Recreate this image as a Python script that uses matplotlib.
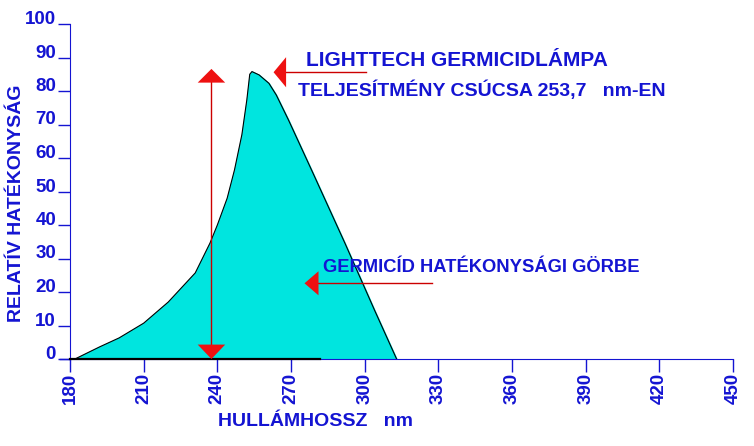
import numpy as np
import matplotlib.pyplot as plt

plt.rcParams['font.family'] = ['Liberation Sans', 'DejaVu Sans']

# germicid hatekonysagi gorbe (leolvasva)
wavelength = [182, 192, 200, 210, 220, 231, 237, 240, 244, 247, 250, 252, 253.2, 254.1,
              257, 261, 264, 269, 279, 292, 304, 313]
efficiency = [0, 3.6, 6.3, 10.7, 17, 25.7, 34.6, 40, 48, 56.5, 67, 77.3, 85, 85.8,
              84.8, 82.3, 78.8, 71.3, 55.4, 34.5, 14.6, 0]

x_ticks = [180, 210, 240, 270, 300, 330, 360, 390, 420, 450]
y_ticks = [0, 10, 20, 30, 40, 50, 60, 70, 80, 90, 100]

blue = '#1414d2'
red = '#ee1111'

fig = plt.figure(figsize=(7.54, 4.46), dpi=100)
ax = fig.add_axes([70 / 754, 1 - 359 / 446, (733 - 70) / 754, (359 - 24) / 446])
ax.set_xlim(180, 450)
ax.set_ylim(0, 100)

# kitoltott gorbe
ax.fill_between(wavelength, efficiency, color='#00e5df', zorder=2)
ax.plot(wavelength, efficiency, color='black', lw=0.8, zorder=3)
ax.plot([180, 282], [0, 0], color='black', lw=1.6, zorder=4, clip_on=False)

# tengelyek
for s in ['right', 'top']:
    ax.spines[s].set_visible(False)
ax.spines['left'].set_color(blue)
ax.spines['bottom'].set_color(blue)
ax.plot([176, 180], [0, 0], color=blue, lw=1, clip_on=False)

ax.set_xticks(x_ticks)
ax.set_yticks(y_ticks)
ax.tick_params(axis='both', colors=blue, length=9, width=1, pad=1)
ax.set_xticklabels([str(v) for v in x_ticks], rotation=90, fontsize=13.5,
                   fontweight='bold', color=blue)
ax.set_yticklabels([str(v) for v in y_ticks], fontsize=13.5,
                   fontweight='bold', color=blue)
for lab in ax.get_yticklabels():
    lab.set_verticalalignment('baseline')

fig.text(17 / 754, 1 - 203 / 446, 'RELATÍV HATÉKONYSÁG', fontsize=14, fontweight='bold',
         color=blue, ha='center', va='center', rotation=90)
fig.text(315 / 754, 1 - 421 / 446, 'HULLÁMHOSSZ   nm', fontsize=14, fontweight='bold',
         color=blue, ha='center', va='center')

# piros nyil 240 nm-nel
ax.plot([237.6, 237.6], [4, 83], color='#cc0000', lw=1, zorder=5)
ax.fill([232, 243.2, 237.6], [82.5, 82.5, 86.6], color=red, zorder=6, lw=0)
ax.fill([232, 243.2, 237.6], [4.3, 4.3, 0], color=red, zorder=6, lw=0)

# felso cimke nyila
ax.plot([268, 300.7], [85.6, 85.6], color='#cc0000', lw=1, zorder=5)
ax.fill([268, 268, 262.9], [81.1, 90.1, 85.6], color=red, zorder=6, lw=0)

# also cimke nyila
ax.plot([281, 327.6], [22.6, 22.6], color='#cc0000', lw=1, zorder=5)
ax.fill([281.2, 281.2, 275.5], [19, 26.2, 22.6], color=red, zorder=6, lw=0)

ax.text(306 / 754, 1 - 60 / 446, 'LIGHTTECH GERMICIDLÁMPA', transform=fig.transFigure,
        fontsize=15, fontweight='bold', color=blue, va='center', ha='left', zorder=7)
ax.text(298 / 754, 1 - 90 / 446, 'TELJESÍTMÉNY CSÚCSA 253,7   nm-EN', transform=fig.transFigure,
        fontsize=14, fontweight='bold', color=blue, va='center', ha='left', zorder=7)
ax.text(323 / 754, 1 - 268 / 446, 'GERMICÍD HATÉKONYSÁGI GÖRBE', transform=fig.transFigure,
        fontsize=13.2, fontweight='bold', color=blue, va='center', ha='left', zorder=7)

fig.savefig('out.png', dpi=100)
